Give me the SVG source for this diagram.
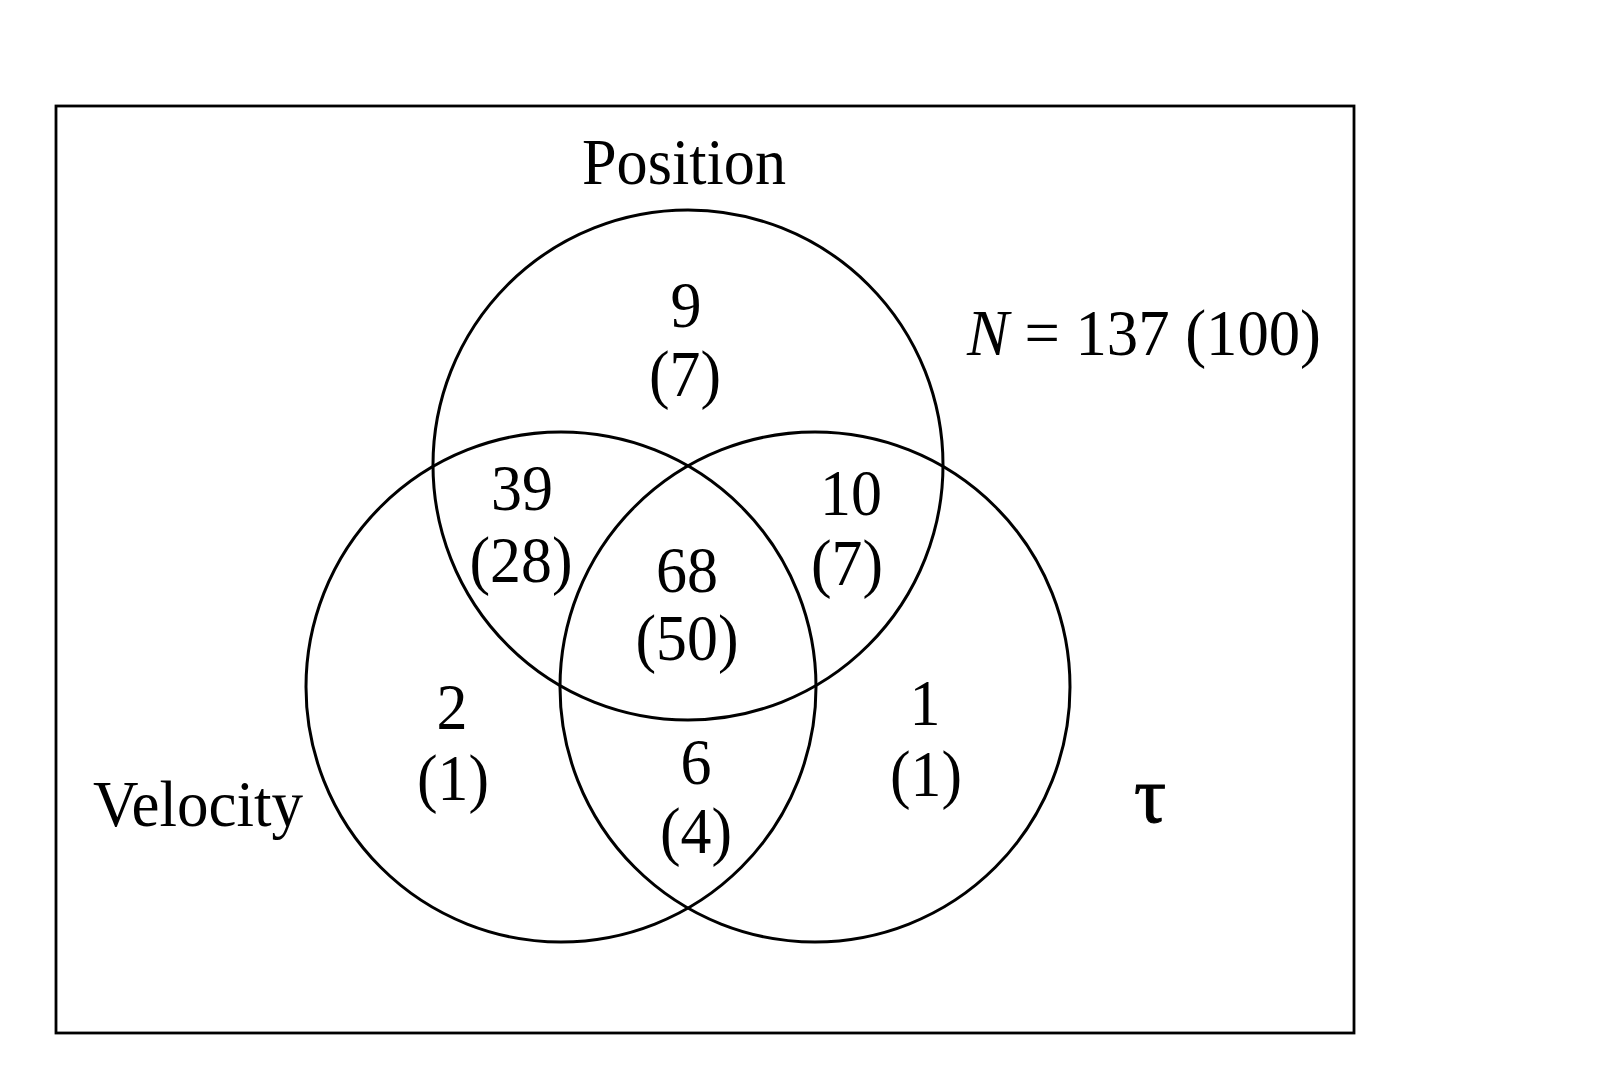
<svg xmlns="http://www.w3.org/2000/svg" width="1601" height="1084" viewBox="0 0 1601 1084">
<style>
.set{fill:none;stroke:#000;stroke-width:3}
.frame{fill:none;stroke:#000;stroke-width:2.8}
.t{font-family:"Liberation Serif","Times New Roman",serif;font-size:66px;fill:#000;text-anchor:middle}
</style>
<rect width="1601" height="1084" fill="#fff"/>
<rect id="frame" class="frame" x="56" y="106" width="1298" height="927"/>
<g id="set-position">
<circle class="set" cx="688" cy="465" r="255"/>
<text class="t" x="684" y="184" textLength="204" lengthAdjust="spacingAndGlyphs">Position</text>
</g>
<g id="set-velocity">
<circle class="set" cx="561" cy="687" r="255"/>
<text class="t" x="198" y="826" textLength="210" lengthAdjust="spacingAndGlyphs">Velocity</text>
</g>
<g id="set-tau">
<circle class="set" cx="815" cy="687" r="255"/>
<text class="t" x="1150" y="822" style="font-size:80px;stroke:#000;stroke-width:1">τ</text>
</g>
<g id="total">
<text class="t" x="1144" y="355" textLength="354" lengthAdjust="spacingAndGlyphs"><tspan font-style="italic">N</tspan> = 137 (100)</text>
</g>
<g id="region-p">
<text class="t" x="686" y="327" textLength="31" lengthAdjust="spacingAndGlyphs">9</text>
<text class="t" x="685" y="396" textLength="72" lengthAdjust="spacingAndGlyphs">(7)</text>
</g>
<g id="region-pv">
<text class="t" x="522" y="510" textLength="62" lengthAdjust="spacingAndGlyphs">39</text>
<text class="t" x="521" y="582" textLength="103" lengthAdjust="spacingAndGlyphs">(28)</text>
</g>
<g id="region-pt">
<text class="t" x="851" y="515" textLength="62" lengthAdjust="spacingAndGlyphs">10</text>
<text class="t" x="847" y="585" textLength="72" lengthAdjust="spacingAndGlyphs">(7)</text>
</g>
<g id="region-pvt">
<text class="t" x="687" y="592" textLength="62" lengthAdjust="spacingAndGlyphs">68</text>
<text class="t" x="687" y="660" textLength="103" lengthAdjust="spacingAndGlyphs">(50)</text>
</g>
<g id="region-v">
<text class="t" x="452" y="729" textLength="31" lengthAdjust="spacingAndGlyphs">2</text>
<text class="t" x="453" y="800" textLength="72" lengthAdjust="spacingAndGlyphs">(1)</text>
</g>
<g id="region-vt">
<text class="t" x="696" y="784" textLength="31" lengthAdjust="spacingAndGlyphs">6</text>
<text class="t" x="696" y="853" textLength="72" lengthAdjust="spacingAndGlyphs">(4)</text>
</g>
<g id="region-t">
<text class="t" x="925" y="725" textLength="31" lengthAdjust="spacingAndGlyphs">1</text>
<text class="t" x="926" y="796" textLength="72" lengthAdjust="spacingAndGlyphs">(1)</text>
</g>
</svg>
